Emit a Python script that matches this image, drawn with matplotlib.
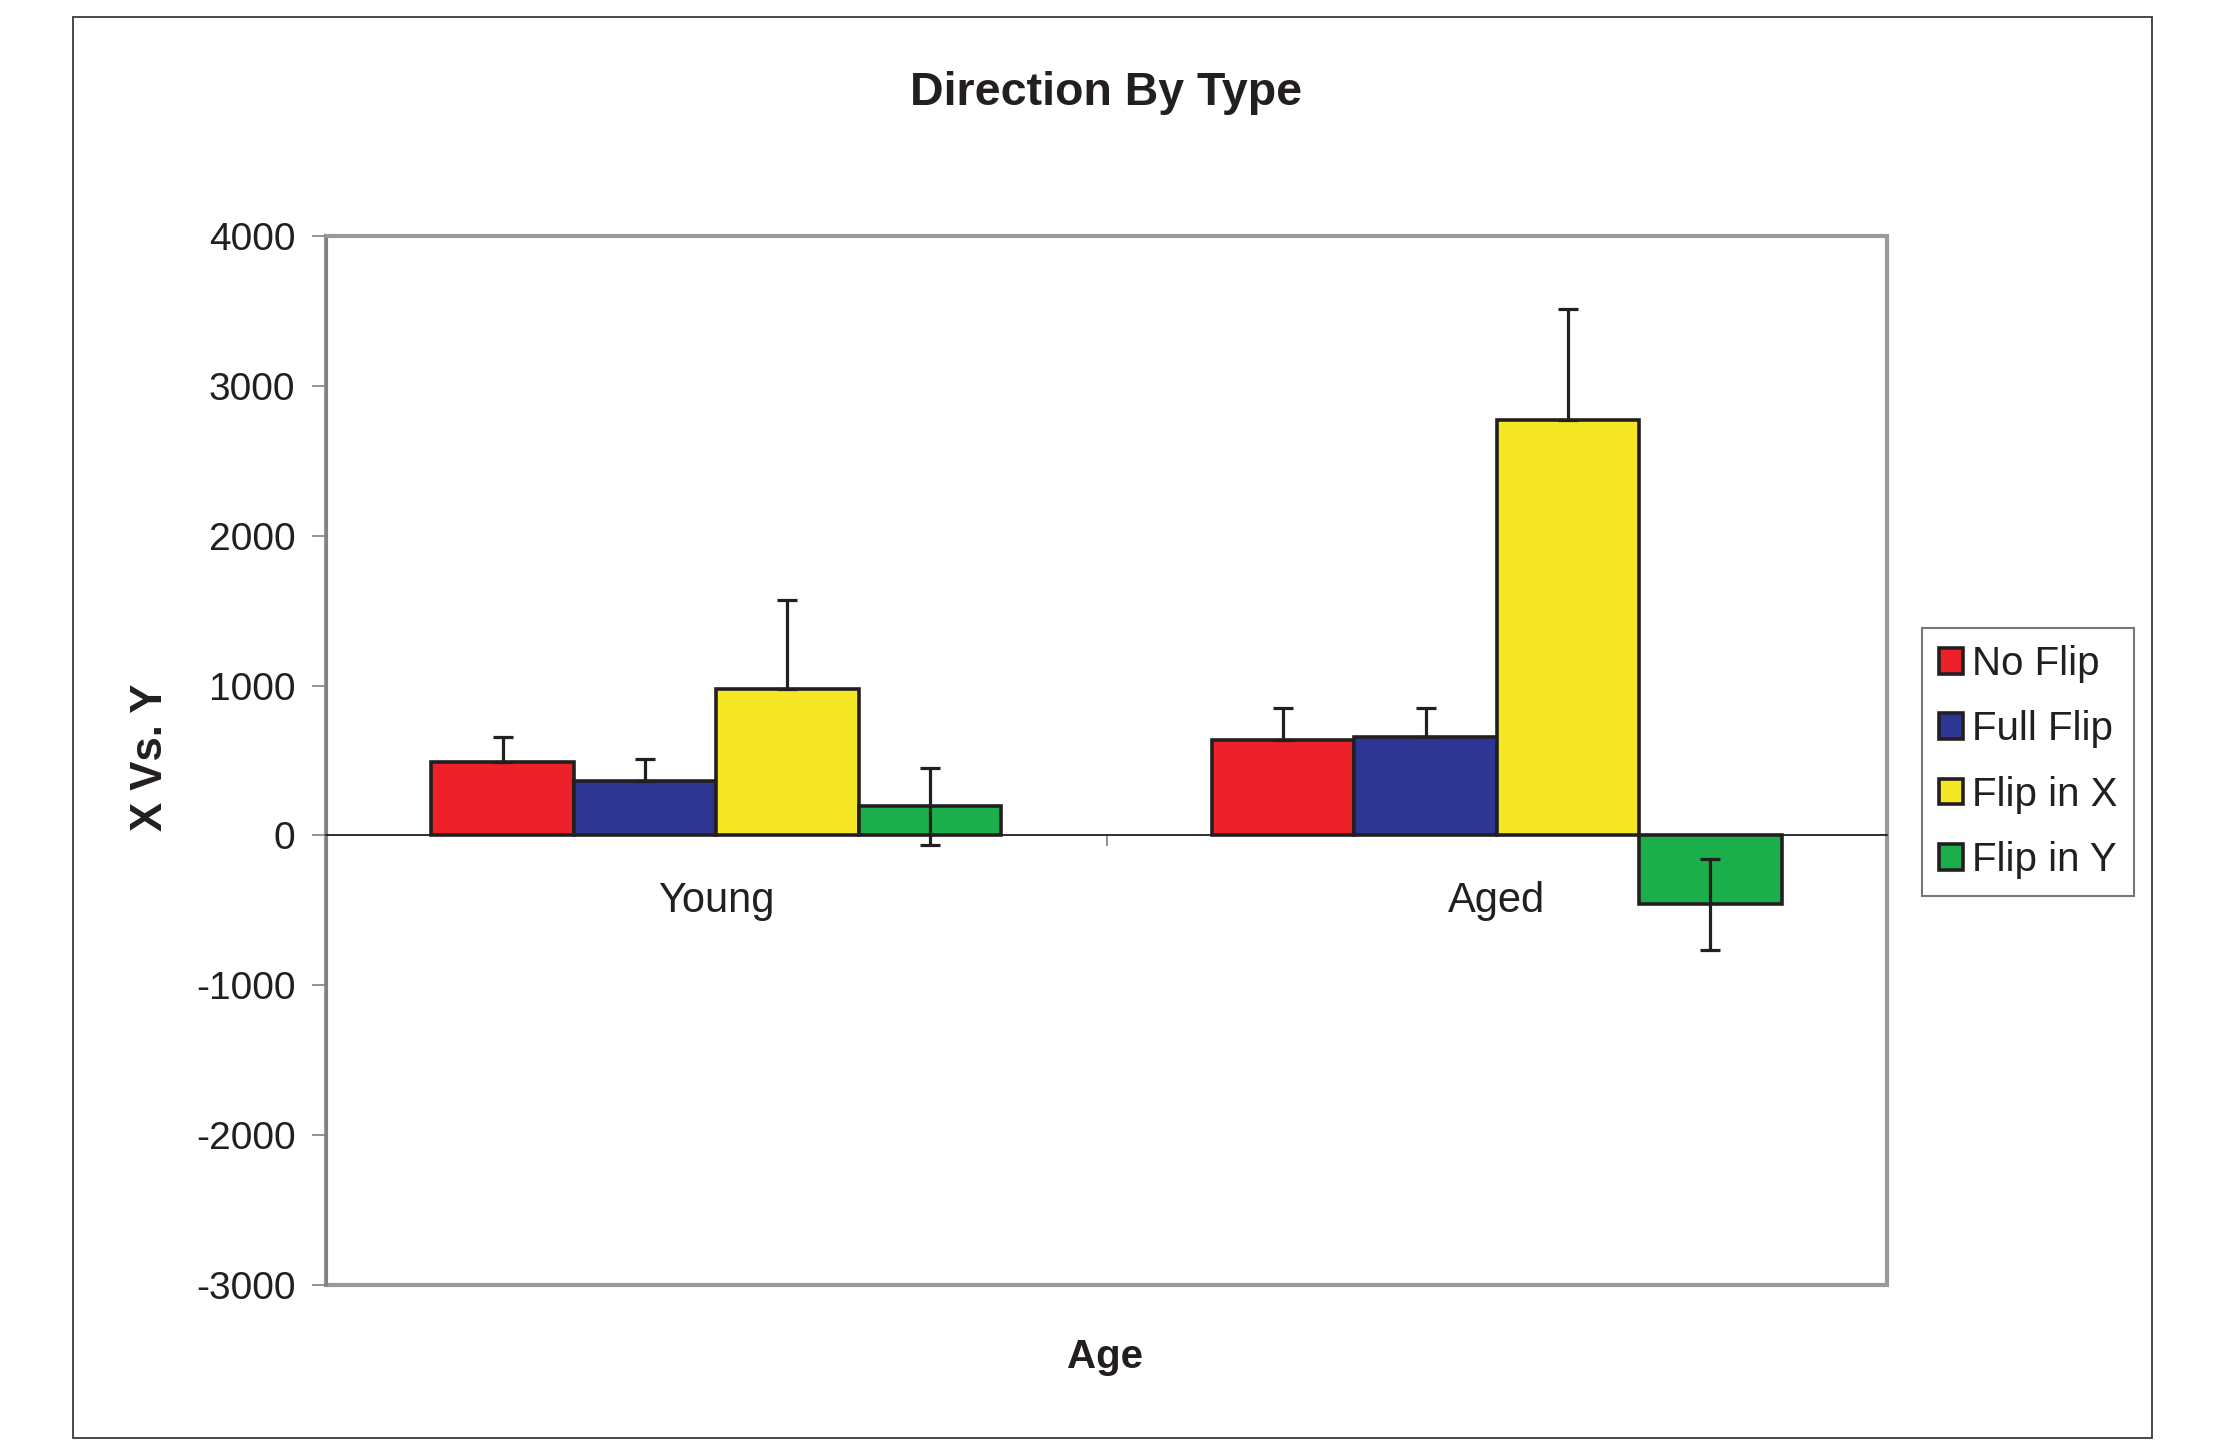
import numpy as np
import matplotlib.pyplot as plt
from matplotlib.patches import Rectangle

plt.rcParams['font.family'] = ['Liberation Sans', 'DejaVu Sans']
plt.rcParams['axes.unicode_minus'] = False

groups = ['Young', 'Aged']
series = ['No Flip', 'Full Flip', 'Flip in X', 'Flip in Y']
colors = ['#ED2129', '#2E3694', '#F6E726', '#1BAF4B']

# mean values per series, [Young, Aged]
no_flip = [487, 640]
full_flip = [363, 660]
flip_x = [980, 2770]
flip_y = [193, -460]

# error sizes per series, [Young, Aged]
no_flip_err = [173, 213]
full_flip_err = [147, 193]
flip_x_err = [593, 740]
flip_y_err = [255, 305]

values = [no_flip, full_flip, flip_x, flip_y]
errors = [no_flip_err, full_flip_err, flip_x_err, flip_y_err]
# only the green series shows its lower whisker
both_sides = [False, False, False, True]

ink = '#231F20'
fig = plt.figure(figsize=(22.13, 14.52), dpi=100)
ax = fig.add_axes([0.1473, 0.115, 0.7054, 0.7225])

# outer chart frame
fig.patches.append(Rectangle((0.033, 0.0096), 0.9395, 0.979, transform=fig.transFigure,
                             fill=False, ec='#3a3a3a', lw=1.3))

x = np.arange(len(groups))
w = 0.1825
for i, (name, vals, errs) in enumerate(zip(series, values, errors)):
    pos = x + (i - 1.5) * w
    errs = np.array(errs)
    lower = errs if both_sides[i] else np.zeros_like(errs)
    ax.bar(pos, vals, w, color=colors[i], edgecolor=ink, linewidth=2.6, label=name, zorder=2)
    ax.errorbar(pos, vals, yerr=[lower, errs], fmt='none', ecolor=ink,
                elinewidth=2.3, capsize=7.5, capthick=2.3, zorder=3)

ax.set_xlim(-0.5, 1.5)
ax.set_ylim(-3000, 4000)
ax.set_yticks(np.arange(-3000, 4001, 1000))

for s in ['top', 'right', 'left']:
    ax.spines[s].set_color('#9a9a9a')
    ax.spines[s].set_linewidth(2.0)
ax.spines['left'].set_color('#808080')
ax.spines['bottom'].set_position(('data', 0))
ax.spines['bottom'].set_color(ink)
ax.spines['bottom'].set_linewidth(1.3)
ax.add_patch(Rectangle((0, 0), 1, 1, transform=ax.transAxes, fill=False,
                       ec='#9a9a9a', lw=3.0, clip_on=False, zorder=0))

ax.set_xticks(x)
ax.set_xticklabels(groups)
ax.set_xticks([-0.5, 0.5, 1.5], minor=True)
ax.tick_params(axis='x', which='major', length=0, pad=33, labelsize=30, labelcolor=ink)
ax.tick_params(axis='x', which='minor', length=8, width=1.2, color='#808080', direction='out')
ax.tick_params(axis='y', length=10, width=1.2, color='#808080', labelsize=28,
               labelcolor=ink, pad=12)

fig.text(0.5, 1 - 93 / 1452, 'Direction By Type', ha='center', va='center',
         fontsize=33.5, fontweight='bold', color=ink)
fig.text(151 / 2213, 1 - 757 / 1452, 'X Vs. Y', ha='center', va='center', rotation=90,
         fontsize=31.5, fontweight='bold', color=ink)
fig.text(1105 / 2213, 1 - 1357 / 1452, 'Age', ha='center', va='center',
         fontsize=29, fontweight='bold', color=ink)

leg = fig.legend(loc='upper left', bbox_to_anchor=(1922 / 2213, 1 - 628 / 1452),
                 fontsize=29, frameon=True, fancybox=False, handlelength=0.6,
                 handleheight=0.6, handletextpad=0.22, labelspacing=0.68,
                 borderpad=0.42, borderaxespad=0)
leg.get_frame().set_edgecolor('#555555')
leg.get_frame().set_linewidth(1.5)
for t in leg.get_texts():
    t.set_color(ink)

fig.savefig('out.png', dpi=100)
